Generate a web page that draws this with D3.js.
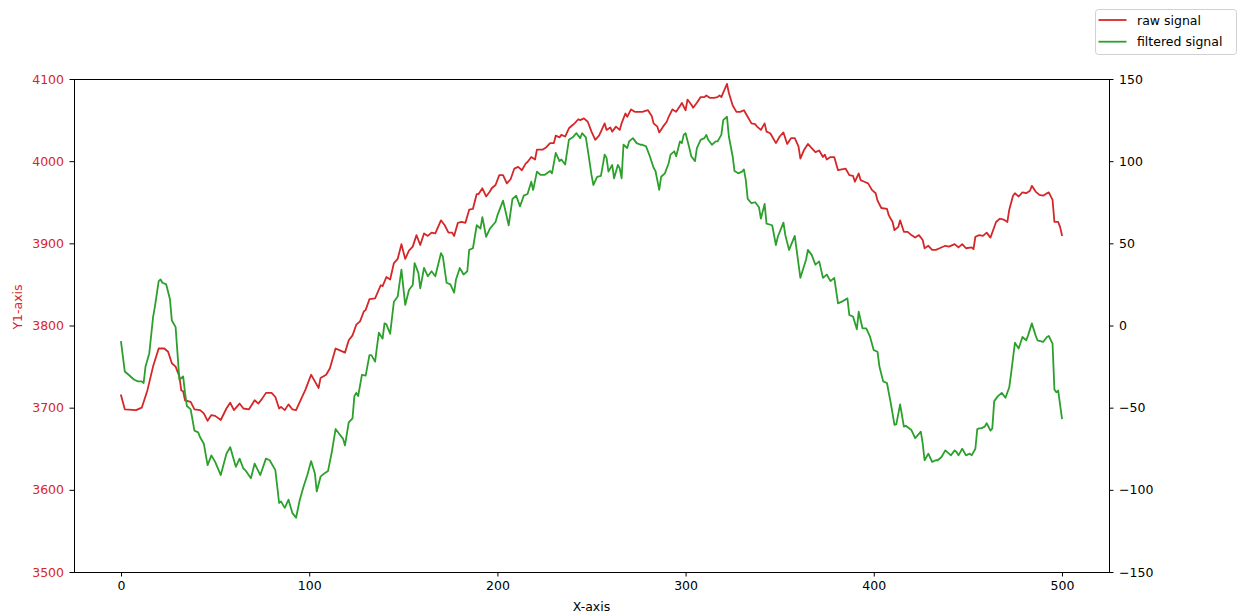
<!DOCTYPE html>
<html>
<head>
<meta charset="utf-8">
<script src="https://cdn.jsdelivr.net/npm/d3@7"></script>
<style>
  html, body { margin: 0; padding: 0; background: #fff; }
  svg { display: block; font-family: "DejaVu Sans", sans-serif; }
</style>
</head>
<body>
<svg id="chart" width="1248" height="614"></svg>
<script>
// Raw signal samples: [index, value] on the left (Y1) axis
const rawSignal = [
  [0,3715],[2,3698],[8,3697],[11,3700],[14,3721],[17,3750],[20,3772],[23,3772],[25,3768],[27,3754],
  [29,3750],[31,3738],[32,3721],[33,3720],[34,3709],[37,3707],[39,3698],[42,3697],[44,3693],[46,3684],
  [48,3691],[50,3690],[53,3685],[56,3699],[58,3706],[60,3697],[63,3705],[65,3699],[68,3698],[71,3709],
  [73,3705],[75,3711],[77,3718],[80,3718],[82,3713],[84,3699],[85,3701],[87,3697],[89,3704],[91,3698],
  [93,3697],[95,3707],[98,3722],[101,3740],[103,3732],[105,3724],[106,3736],[109,3740],[111,3748],[114,3772],
  [116,3770],[119,3767],[121,3782],[123,3788],[125,3801],[127,3805],[129,3817],[130,3819],[132,3832],[135,3833],
  [138,3849],[139,3848],[141,3859],[143,3856],[145,3876],[147,3881],[149,3899],[151,3881],[153,3891],[155,3896],
  [157,3910],[159,3898],[161,3912],[163,3909],[165,3913],[167,3912],[170,3928],[172,3922],[174,3913],[176,3913],
  [177,3909],[179,3925],[181,3926],[183,3925],[185,3941],[187,3942],[189,3960],[190,3960],[192,3967],[194,3957],
  [196,3963],[197,3967],[199,3971],[201,3983],[203,3983],[205,3973],[207,3978],[209,3991],[211,3993],[213,3989],
  [215,3997],[216,3999],[218,4005],[220,4002],[221,4014],[224,4014],[226,4017],[228,4022],[230,4022],[231,4031],
  [233,4029],[234,4032],[236,4030],[238,4040],[240,4044],[241,4046],[243,4051],[244,4050],[246,4052],[248,4048],
  [250,4036],[252,4026],[254,4031],[255,4036],[257,4046],[258,4038],[260,4041],[261,4036],[263,4042],[265,4038],
  [266,4046],[268,4058],[269,4054],[271,4063],[273,4060],[275,4060],[277,4060],[280,4062],[282,4055],[283,4046],
  [285,4042],[286,4035],[288,4042],[290,4048],[291,4054],[293,4063],[295,4060],[297,4067],[298,4071],[300,4062],
  [301,4075],[303,4069],[304,4065],[306,4071],[308,4078],[310,4078],[311,4080],[313,4077],[315,4077],[317,4078],
  [318,4080],[319,4078],[322,4094],[323,4083],[325,4068],[327,4060],[329,4060],[331,4062],[333,4054],[335,4046],
  [337,4045],[338,4042],[340,4038],[342,4046],[343,4036],[345,4034],[346,4030],[348,4022],[350,4030],[352,4035],
  [354,4021],[356,4028],[358,4028],[360,4018],[361,4003],[363,4014],[365,4021],[367,4016],[369,4011],[371,4013],
  [373,4005],[374,4008],[375,4002],[377,4005],[379,4005],[381,3989],[383,3990],[385,3991],[387,3983],[389,3982],
  [390,3975],[392,3985],[393,3977],[395,3975],[397,3973],[399,3965],[401,3961],[402,3952],[404,3943],[407,3942],
  [408,3934],[410,3926],[411,3916],[413,3920],[414,3928],[416,3914],[418,3914],[420,3910],[422,3907],[424,3910],
  [426,3904],[427,3894],[429,3897],[431,3892],[433,3892],[435,3894],[438,3897],[440,3896],[443,3899],[445,3895],
  [447,3899],[449,3894],[452,3895],[453,3893],[454,3908],[456,3910],[458,3909],[460,3913],[462,3907],[465,3926],
  [467,3930],[469,3929],[471,3926],[472,3941],[474,3958],[475,3961],[477,3957],[479,3962],[481,3961],[483,3964],
  [484,3970],[486,3963],[488,3959],[490,3958],[492,3961],[493,3962],[495,3953],[496,3926],[498,3926],[499,3920],
  [500,3910]
];

// Filtered signal samples: [index, value] on the right axis
const filteredSignal = [
  [0,-10],[2,-28],[4,-30],[7,-33],[9,-34],[11,-34],[12,-35],[13,-25],[15,-17],[17,5],
  [18,11.5],[20,27],[21,28],[22,26],[24,25],[26,16],[27,3],[29,-1],[30,-17],[31,-33],
  [33,-31],[34,-41],[35,-49],[37,-51],[39,-64],[41,-65],[42,-68],[44,-72],[46,-85],[48,-79],
  [50,-83],[53,-91],[56,-78],[58,-74],[60,-82],[61,-86],[63,-81],[65,-87],[66,-88],[69,-93],
  [71,-84],[74,-91],[77,-81],[79,-82],[82,-88],[84,-108],[85,-107],[87,-111],[89,-106],[91,-114],
  [93,-117],[95,-106],[97,-98],[99,-91],[101,-82.5],[103,-90],[104,-101],[106,-92],[108,-90],[110,-88.5],
  [112,-77],[114,-63],[116,-66],[118,-69],[119,-73],[121,-59],[123,-56.5],[124,-43],[125,-41],[126,-43],
  [128,-30],[130,-30.5],[132,-18],[133,-18],[135,-22],[136,-13],[137,-4.4],[139,-8],[140,1.3],[141,0.7],
  [143,-5],[145,14.5],[147,17.6],[149,34],[151,12.5],[153,21.6],[155,24.6],[156,38],[158,32],[159,22.6],
  [161,35],[163,30],[165,33],[167,30],[170,44],[171,42],[173,26],[175,25],[177,20],[178,28],
  [180,35],[182,31],[184,33],[185,46],[187,47],[189,61],[191,59],[192,66],[194,54],[196,59],
  [199,63],[200,67],[203,76],[204,71],[206,61],[208,77],[210,79],[212,72.5],[214,79],[216,80],
  [218,87.5],[219,82.5],[221,93.6],[223,91.6],[225,91.6],[228,94],[229,92.6],[231,105],[233,100],[234,101],
  [236,98],[238,113],[240,114.5],[242,117],[244,114],[245,117],[247,114.5],[248,107],[250,91.6],[251,85.5],
  [253,90.5],[255,91],[257,104],[258,102],[259,93.6],[261,97.7],[262,89.6],[264,97.7],[265,95.7],[266,89.6],
  [267,110],[269,108],[270,112],[272,114],[274,111],[276,110],[277,110],[279,109],[281,103],[283,96],
  [284,94],[286,82.5],[287,90.5],[289,92.6],[291,98.7],[292,104],[294,106],[295,103],[297,112],[298,111],
  [299,116],[300,117],[302,108],[303,103],[305,100],[306,108],[308,113],[310,114],[311,116],[312,113],
  [314,110],[316,112],[317,112],[318,114],[319,116],[320,125],[322,127],[323,115],[325,103],[326,94],
  [328,92.6],[330,93.6],[331,95],[332,88.5],[333,77],[335,74.4],[337,75],[339,72],[340,65],[342,74],
  [343,62],[346,61],[348,49],[349,54],[352,62.6],[353,55],[355,46],[358,54.5],[359,46],[361,29],
  [364,40],[365,46],[367,43],[369,37],[371,39],[373,29],[375,31],[377,27],[379,29],[381,13.5],
  [383,14.5],[386,16.5],[387,6.4],[389,5.4],[391,-2.3],[392,8.4],[394,-1.7],[396,-1.7],[398,-6.8],[400,-15],
  [402,-16],[403,-25],[405,-34],[407,-35],[409,-47],[411,-60.5],[412,-60],[414,-48],[416,-61.5],[417,-61],
  [420,-63.6],[422,-68.6],[425,-64.6],[426,-71.7],[427,-82],[429,-78],[431,-83],[433,-82],[434,-82],[436,-80],
  [438,-76],[440,-78],[441,-79],[443,-76],[444,-77],[445,-79],[447,-75],[448,-77],[449,-79],[451,-78],
  [452,-79],[454,-75],[455,-63],[456,-62.6],[457,-62.6],[459,-61.5],[460,-59.5],[462,-64],[463,-62.6],[464,-46],
  [466,-43],[468,-41],[470,-44],[472,-37.6],[473,-29],[475,-10.5],[477,-14],[479,-7],[481,-9],[482,-6],
  [484,1.3],[486,-6],[487,-9],[490,-10],[492,-7],[493,-6.4],[495,-11],[496,-39],[497,-40.6],[498,-39.6],
  [500,-56.5]
];

const xTicks = [0, 100, 200, 300, 400, 500];
const y1Ticks = [3500, 3600, 3700, 3800, 3900, 4000, 4100];
const y2Ticks = [-150, -100, -50, 0, 50, 100, 150];
const seriesNames = ["raw signal", "filtered signal"];
const seriesColors = ["#d62728", "#2ca02c"];

const svg = d3.select("#chart");
const margin = { left: 74, top: 79, right: 1248 - 1109, bottom: 614 - 572 };
const W = 1248 - margin.left - margin.right;
const H = 614 - margin.top - margin.bottom;
const FS = "12.5px";
const LW = 1.8;

const x = d3.scaleLinear().domain([-25, 525]).range([0, W]);
const y1 = d3.scaleLinear().domain([3500, 4100]).range([H, 0]);
const y2 = d3.scaleLinear().domain([-150, 150]).range([H, 0]);

const g = svg.append("g").attr("transform", `translate(${margin.left},${margin.top})`);

// plot lines, clipped to the axes box
svg.append("defs").append("clipPath").attr("id", "clip")
  .append("rect").attr("width", W).attr("height", H);

const lineRaw = d3.line().x(d => x(d[0])).y(d => y1(d[1]));
const lineFilt = d3.line().x(d => x(d[0])).y(d => y2(d[1]));

const plot = g.append("g").attr("clip-path", "url(#clip)");
plot.append("path").datum(rawSignal)
  .attr("d", lineRaw).attr("fill", "none")
  .attr("stroke", seriesColors[0]).attr("stroke-width", LW)
  .attr("stroke-linejoin", "round").attr("stroke-linecap", "square");
plot.append("path").datum(filteredSignal)
  .attr("d", lineFilt).attr("fill", "none")
  .attr("stroke", seriesColors[1]).attr("stroke-width", LW)
  .attr("stroke-linejoin", "round").attr("stroke-linecap", "square");

// axes
function styleAxis(sel, labelColor) {
  sel.select(".domain").remove();
  sel.selectAll(".tick line").attr("stroke", "#000").attr("stroke-width", 1);
  sel.selectAll(".tick text").attr("fill", labelColor).style("font-size", FS)
    .style("font-family", "'DejaVu Sans', sans-serif");
}

const gx = g.append("g").attr("transform", `translate(0,${H})`)
  .call(d3.axisBottom(x).tickValues(xTicks).tickFormat(d3.format("d")).tickSize(4.5).tickPadding(5));
styleAxis(gx, "#000");

const gy1 = g.append("g")
  .call(d3.axisLeft(y1).tickValues(y1Ticks).tickFormat(d3.format("d")).tickSize(4.5).tickPadding(5.5));
styleAxis(gy1, seriesColors[0]);

const gy2 = g.append("g").attr("transform", `translate(${W},0)`)
  .call(d3.axisRight(y2).tickValues(y2Ticks).tickFormat(d3.format("d")).tickSize(4.5).tickPadding(5.5));
styleAxis(gy2, "#000");

// frame (all four spines)
g.append("rect").attr("x", 0).attr("y", 0).attr("width", W).attr("height", H)
  .attr("fill", "none").attr("stroke", "#000").attr("stroke-width", 1)
  .attr("shape-rendering", "crispEdges");

// axis labels
svg.append("text").attr("x", margin.left + W / 2).attr("y", 611)
  .attr("text-anchor", "middle").style("font-size", FS).attr("fill", "#000")
  .text("X-axis");

svg.append("text")
  .attr("transform", "translate(21.5,307) rotate(-90)")
  .attr("text-anchor", "middle").style("font-size", FS).attr("fill", seriesColors[0])
  .text("Y1-axis");

// figure legend (upper right)
const leg = svg.append("g").attr("transform", "translate(1095,9)");
leg.append("rect").attr("x", 0.5).attr("y", 0.5).attr("width", 141).attr("height", 45)
  .attr("rx", 3).attr("fill", "#fff").attr("fill-opacity", 0.8)
  .attr("stroke", "#d0d0d0").attr("stroke-width", 1);
seriesNames.forEach((name, i) => {
  const yy = 11 + i * 21.7;
  leg.append("line").attr("x1", 3.5).attr("x2", 31.5).attr("y1", yy).attr("y2", yy)
    .attr("stroke", seriesColors[i]).attr("stroke-width", LW);
  leg.append("text").attr("x", 42).attr("y", yy).attr("dy", "0.36em")
    .style("font-size", FS).attr("fill", "#000").text(name);
});
</script>
</body>
</html>
